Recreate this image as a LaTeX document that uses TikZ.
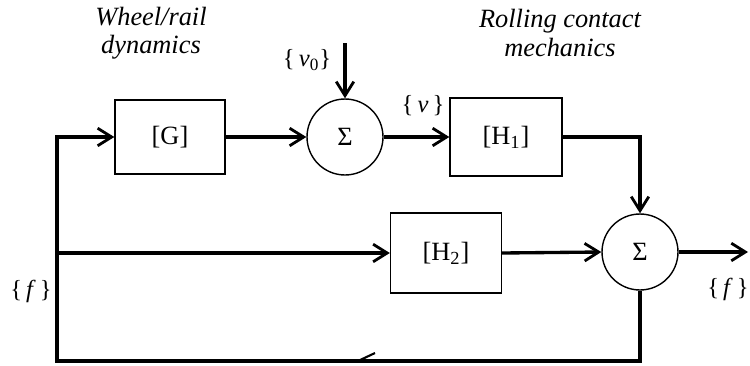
\documentclass[tikz,border=0pt]{standalone}
\usepackage{fontspec}
\setmainfont{Liberation Serif}
\usetikzlibrary{arrows.meta}
\begin{document}
\begin{tikzpicture}[x=0.02cm,y=-0.02cm,
  block/.style={draw,line width=0.8pt,rectangle,font=\fontsize{15}{17}\selectfont},
  sumnode/.style={draw,line width=0.8pt,circle,minimum size=1.52cm,inner sep=0pt,font=\fontsize{15}{17}\selectfont},
  flow/.style={line width=1.9pt,line join=miter,-{Straight Barb[length=8pt,width=10pt,line width=1.6pt]}},
  lbl/.style={font=\fontsize{14}{16}\selectfont,inner sep=0pt},
  title/.style={font=\fontsize{15}{16}\selectfont\itshape,align=center,inner sep=0pt}]
\useasboundingbox (0,0) rectangle (750,365);

% blocks and summing junctions
\node[block,minimum width=2.2cm,minimum height=1.48cm] (G) at (170,137) {[G]};
\node[sumnode] (S1) at (345,137) {Σ};
\node[block,minimum width=2.24cm,minimum height=1.56cm] (H1) at (506,137) {[H\textsubscript{1}]};
\node[sumnode] (S2) at (640,252) {Σ};
\node[block,minimum width=2.22cm,minimum height=1.6cm] (H2) at (446,253) {[H\textsubscript{2}]};

% free ends and corners of the connectors
\coordinate (v0top) at (345,43);
\coordinate (lt) at (57,137);
\coordinate (lm) at (57,253);
\coordinate (lb) at (57,361);
\coordinate (rb) at (640,361);
\coordinate (out) at (748,252);
\coordinate (tickA) at (358,361);
\coordinate (tickB) at (375,353);

% forward path
\draw[flow] (G.east) -- (S1.west);
\draw[flow] (v0top) -- (S1.north);
\draw[flow] (S1.east) -- (H1.west);
\draw[flow] (H1.east) -| (S2.north);
\draw[flow] (lm) -- (H2.west);
\draw[flow] (H2.east) -- (S2.west);
\draw[flow] (S2.east) -- (out);

% feedback loop
\draw[flow] (S2.south) -- (rb) -- (lb) -- (lt) -- (G.west);
\draw[line width=1.2pt] (tickA) -- (tickB);

% labels
\node[lbl] (lv0) at (307,60) {\{\,\textit{v}\textsubscript{0}\}};
\node[lbl] (lv) at (423,106) {\{\,\textit{v}\,\}};
\node[lbl] (lf1) at (31,291) {\{\,\textit{f}\,\}};
\node[lbl] (lf2) at (728,289) {\{\,\textit{f}\,\}};
\node[title] (t1) at (151,33) {Wheel/rail\\dynamics};
\node[title] (t2) at (560,33) {Rolling contact\\mechanics};
\end{tikzpicture}
\end{document}
